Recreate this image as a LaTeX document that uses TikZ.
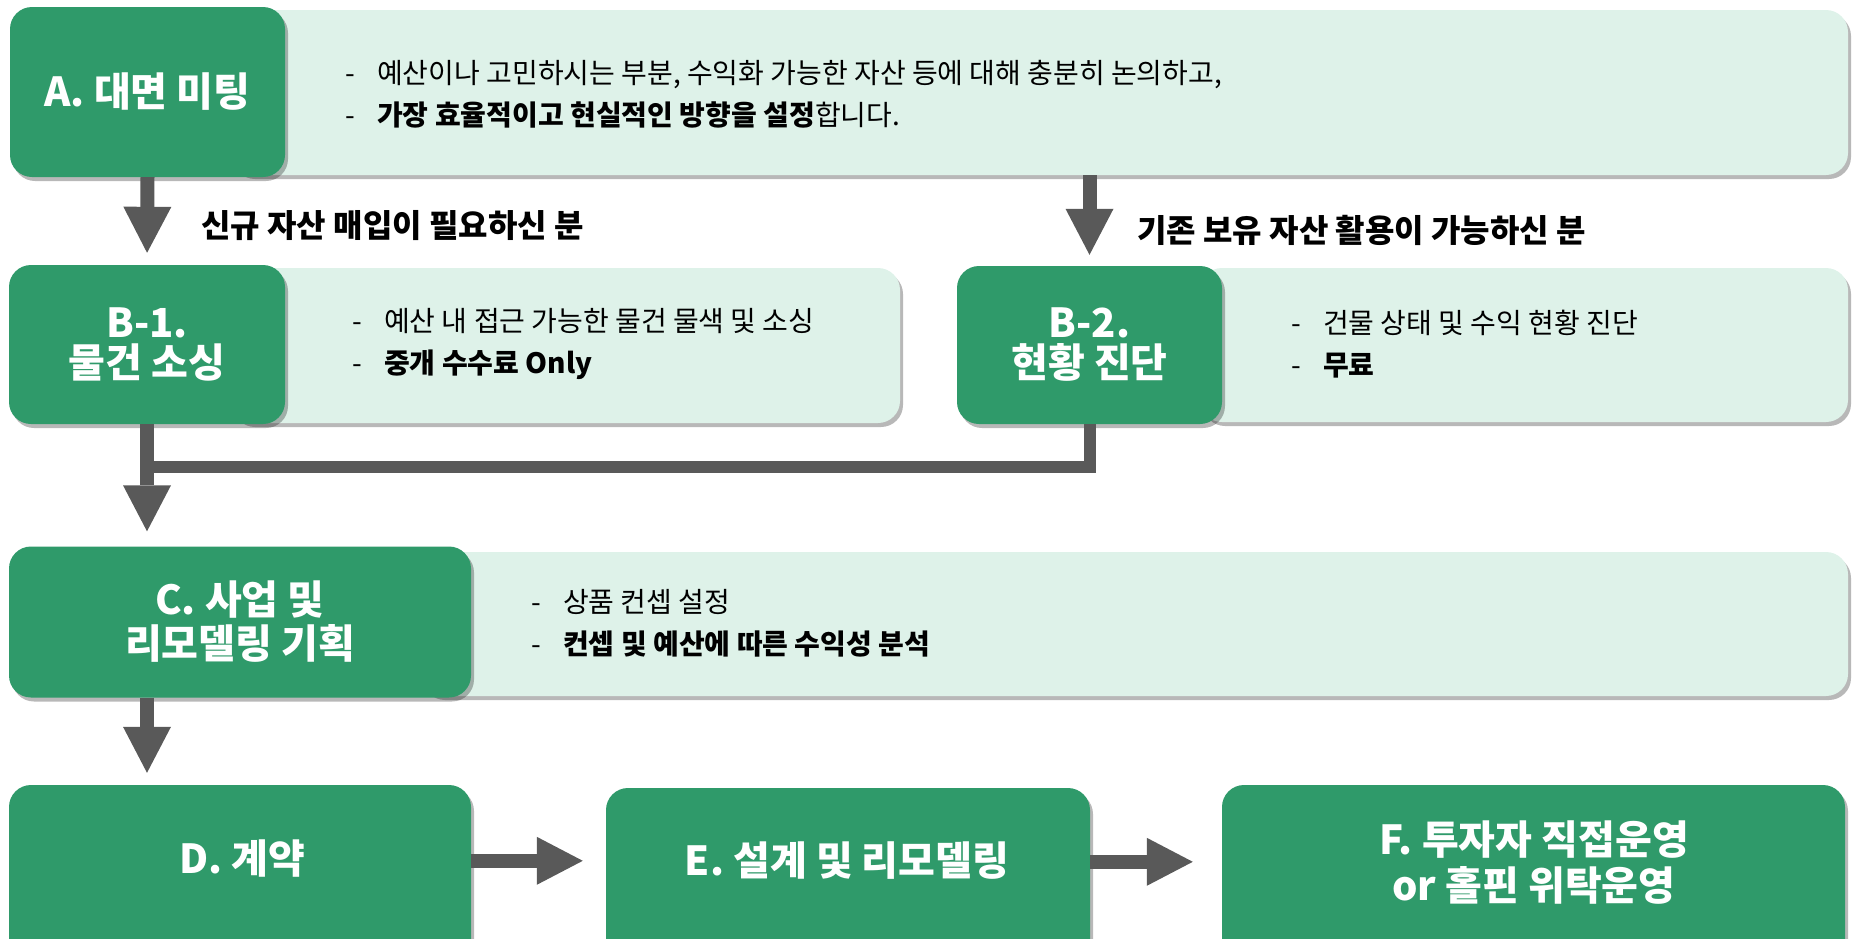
\documentclass[tikz,border=0pt]{standalone}
\usepackage{fontspec}
\setmainfont{Noto Sans CJK KR}
\usetikzlibrary{arrows.meta,shadows,calc}
\definecolor{gbox}{RGB}{47,154,106}
\definecolor{lpanel}{RGB}{222,242,233}
\definecolor{agray}{RGB}{89,89,89}
\tikzset{
  greenbox/.style={fill=gbox, rounded corners=22pt, text=white,
    font=\fontsize{40}{40}\selectfont\bfseries, align=center, inner sep=0pt,
    drop shadow={shadow xshift=3pt, shadow yshift=-4pt, opacity=0.28, fill=black}},
  panel/.style={fill=lpanel, rounded corners=22pt, inner sep=0pt,
    drop shadow={shadow xshift=3pt, shadow yshift=-4pt, opacity=0.28, fill=black}},
  headtext/.style={text=white, font=\fontsize{40}{46}\selectfont\bfseries, align=center, inner sep=0pt},
  bullets/.style={anchor=west, align=left, font=\fontsize{28}{42}\selectfont, inner sep=0pt},
  sidelabel/.style={anchor=west, font=\fontsize{32}{36}\selectfont\bfseries, inner sep=0pt},
  flow/.style={draw=agray, line width=14pt, -{Triangle[width=48pt,length=46pt,line width=0pt]}},
  joinline/.style={draw=agray, line width=12pt},
}
\newcommand{\dsh}{\makebox[32pt][l]{-}}
\begin{document}
\begin{tikzpicture}[x=1pt,y=-1pt]
\useasboundingbox (0,0) rectangle (1857,938);
\clip (0,0) rectangle (1857,938);
% panels
\node[panel, minimum width=1618pt, minimum height=165pt] (Ap) at (1039,92.5) {};
\node[panel, minimum width=670pt, minimum height=155pt] (B1p) at (565,345.5) {};
\node[panel, minimum width=648pt, minimum height=154pt] (B2p) at (1524,345) {};
\node[panel, minimum width=1428pt, minimum height=144pt] (Cp) at (1134,624) {};
% green boxes
\node[greenbox, minimum width=275pt, minimum height=170pt] (A) at (147.5,92) {A. 대면 미팅};
\node[greenbox, minimum width=276pt, minimum height=159pt] (B1) at (147,344.5) {B-1.\\물건 소싱};
\node[greenbox, minimum width=265pt, minimum height=158pt] (B2) at (1089.5,345) {B-2.\\현황 진단};
\node[greenbox, minimum width=462pt, minimum height=151pt, font=\fontsize{40}{44}\selectfont\bfseries] (C) at (240,622) {C. 사업 및\\리모델링 기획};
\node[greenbox, minimum width=462pt, minimum height=200pt] (D) at (240,885) {};
\node[greenbox, minimum width=484pt, minimum height=200pt] (E) at (848,888) {};
\node[greenbox, minimum width=623pt, minimum height=200pt] (F) at (1533.5,885) {};
\node[headtext] (Dt) at ($(D.north)+(2,74)$) {D. 계약};
\node[headtext] (Et) at ($(E.north)+(-1,73)$) {E. 설계 및 리모델링};
\node[headtext] (Ft) at ($(F.north)+(0.5,78)$) {F. 투자자 직접운영\\or 홀핀 위탁운영};
% bullets
\node[bullets] (Ab) at (345,94) {\dsh 예산이나 고민하시는 부분, 수익화 가능한 자산 등에 대해 충분히 논의하고,\\\dsh\textbf{가장 효율적이고 현실적인 방향을 설정}합니다.};
\node[bullets] (B1b) at (352,343.5) {\dsh 예산 내 접근 가능한 물건 물색 및 소싱\\\dsh\textbf{중개 수수료 Only}};
\node[bullets] (B2b) at (1291,344.5) {\dsh 건물 상태 및 수익 현황 진단\\\dsh\textbf{무료}};
\node[bullets] (Cb) at (531,623) {\dsh 상품 컨셉 설정\\\dsh\textbf{컨셉 및 예산에 따른 수익성 분석}};
% side labels
\node[sidelabel] (L1) at (201,226) {신규 자산 매입이 필요하신 분};
\node[sidelabel] (L2) at (1137,230) {기존 보유 자산 활용이 가능하신 분};
% connectors
\coordinate (mergeY) at (0,467);
\draw[flow, shorten >=12pt] (A.south) -- (B1.north);
\draw[flow, shorten >=11pt] (B2.north |- Ap.south) -- (B2.north);
\draw[joinline] (B2.south) |- (B1.south |- mergeY);
\draw[flow, shorten >=15pt] (B1.south) -- (B1.south |- C.north);
\draw[flow, shorten >=12pt] (B1.south |- C.south) -- (B1.south |- D.north);
\draw[flow, shorten >=23pt] ($(D.north east)+(0,76)$) -- ($(E.north west)+(0,73)$);
\draw[flow, shorten >=29pt] ($(E.north east)+(0,74)$) -- ($(F.north west)+(0,77)$);
\end{tikzpicture}
\end{document}
